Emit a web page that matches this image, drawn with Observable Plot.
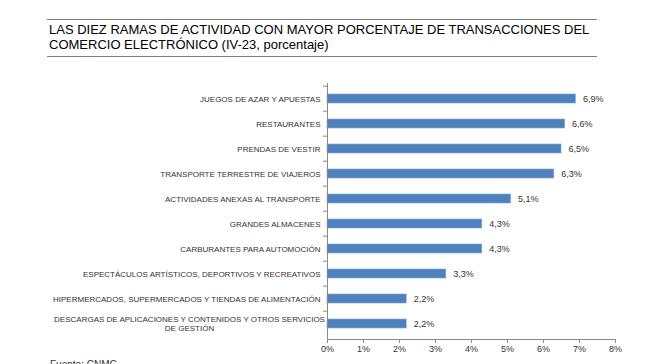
<!DOCTYPE html>
<html>
<head>
<meta charset="utf-8">
<script src="https://cdn.jsdelivr.net/npm/d3@7"></script>
<script src="https://cdn.jsdelivr.net/npm/@observablehq/plot@0.6"></script>
<style>
  html, body { margin: 0; padding: 0; background: #fff; }
  body { width: 650px; height: 364px; overflow: hidden; position: relative; font-family: "Liberation Sans", Arial, sans-serif; }
  #chart { position: absolute; left: 0; top: 0; z-index: 1; }
  #title { position: absolute; left: 47px; top: 19px; width: 550px; border-top: 1.5px solid #7f7f7f; border-bottom: 1.5px solid #7f7f7f; font-size: 13px; line-height: 15px; color: #000; padding: 2px 0 6px 2px; box-sizing: border-box; height: 38px; white-space: nowrap; z-index: 2; }
  #source { position: absolute; left: 50px; top: 359px; font-size: 10px; color: #333; z-index: 2; }
</style>
</head>
<body>
<div id="chart"></div>
<div id="title">LAS DIEZ RAMAS DE ACTIVIDAD CON MAYOR PORCENTAJE DE TRANSACCIONES DEL<br>COMERCIO ELECTRÓNICO (IV-23, porcentaje)</div>
<div id="source">Fuente: CNMC</div>
<script>
const categories = [
  "JUEGOS DE AZAR Y APUESTAS",
  "RESTAURANTES",
  "PRENDAS DE VESTIR",
  "TRANSPORTE TERRESTRE DE VIAJEROS",
  "ACTIVIDADES ANEXAS AL TRANSPORTE",
  "GRANDES ALMACENES",
  "CARBURANTES PARA AUTOMOCIÓN",
  "ESPECTÁCULOS ARTÍSTICOS, DEPORTIVOS Y RECREATIVOS",
  "HIPERMERCADOS, SUPERMERCADOS Y TIENDAS DE ALIMENTACIÓN",
  "DESCARGAS DE APLICACIONES Y CONTENIDOS Y OTROS SERVICIOS DE GESTIÓN"
];
const labelLines = [
  "JUEGOS DE AZAR Y APUESTAS",
  "RESTAURANTES",
  "PRENDAS DE VESTIR",
  "TRANSPORTE TERRESTRE DE VIAJEROS",
  "ACTIVIDADES ANEXAS AL TRANSPORTE",
  "GRANDES ALMACENES",
  "CARBURANTES PARA AUTOMOCIÓN",
  "ESPECTÁCULOS ARTÍSTICOS, DEPORTIVOS Y RECREATIVOS",
  "HIPERMERCADOS, SUPERMERCADOS Y TIENDAS DE ALIMENTACIÓN",
  "DESCARGAS DE APLICACIONES Y CONTENIDOS Y OTROS SERVICIOS\nDE GESTIÓN"
];
const values = [6.9, 6.6, 6.5, 6.3, 5.1, 4.3, 4.3, 3.3, 2.2, 2.2];
const xTicks = [0, 1, 2, 3, 4, 5, 6, 7, 8];

const data = categories.map((c, i) => ({cat: c, label: labelLines[i], value: values[i], multi: labelLines[i].includes("\n")}));
const fmt = v => v.toFixed(1).replace(".", ",") + "%";
const step = (339 - 83) / categories.length;

const chart = Plot.plot({
  width: 650,
  height: 364,
  marginLeft: 327,
  marginRight: 35,
  marginTop: 83,
  marginBottom: 25,
  style: {fontFamily: "Liberation Sans, Arial, sans-serif", color: "#333", background: "transparent"},
  x: {domain: [0, 8], ticks: xTicks},
  y: {domain: categories, paddingInner: 0.64, paddingOuter: 0.32, align: 0.5},
  marks: [
    Plot.barX(data, {x: "value", y: "cat", fill: "#4F81BD", stroke: "#7FA6D6", strokeWidth: 0.6}),
    Plot.text(data, {x: "value", y: "cat", text: d => fmt(d.value), textAnchor: "start", dx: 7, fontSize: 9, fill: "#333"}),
    Plot.text(data.filter(d => !d.multi), {y: "cat", text: "label", frameAnchor: "left", textAnchor: "end", dx: -7, fontSize: 8, fill: "#333"}),
    Plot.text(data.filter(d => d.multi), {y: "cat", text: "label", frameAnchor: "left", textAnchor: "middle", dx: -138, fontSize: 8, lineHeight: 1.1, fill: "#333"}),
    Plot.axisY({ticks: categories, tickSize: 4, text: null, dy: -step / 2, stroke: "#888", label: null}),
    Plot.frame({anchor: "left", stroke: "#888"}),
    Plot.frame({anchor: "bottom", stroke: "#888"}),
    Plot.axisX({ticks: xTicks, tickFormat: d => d + "%", tickSize: 4, tickPadding: 2, fontSize: 9, stroke: "#888", fill: "#333", label: null})
  ]
});
document.getElementById("chart").appendChild(chart);
</script>
</body>
</html>
